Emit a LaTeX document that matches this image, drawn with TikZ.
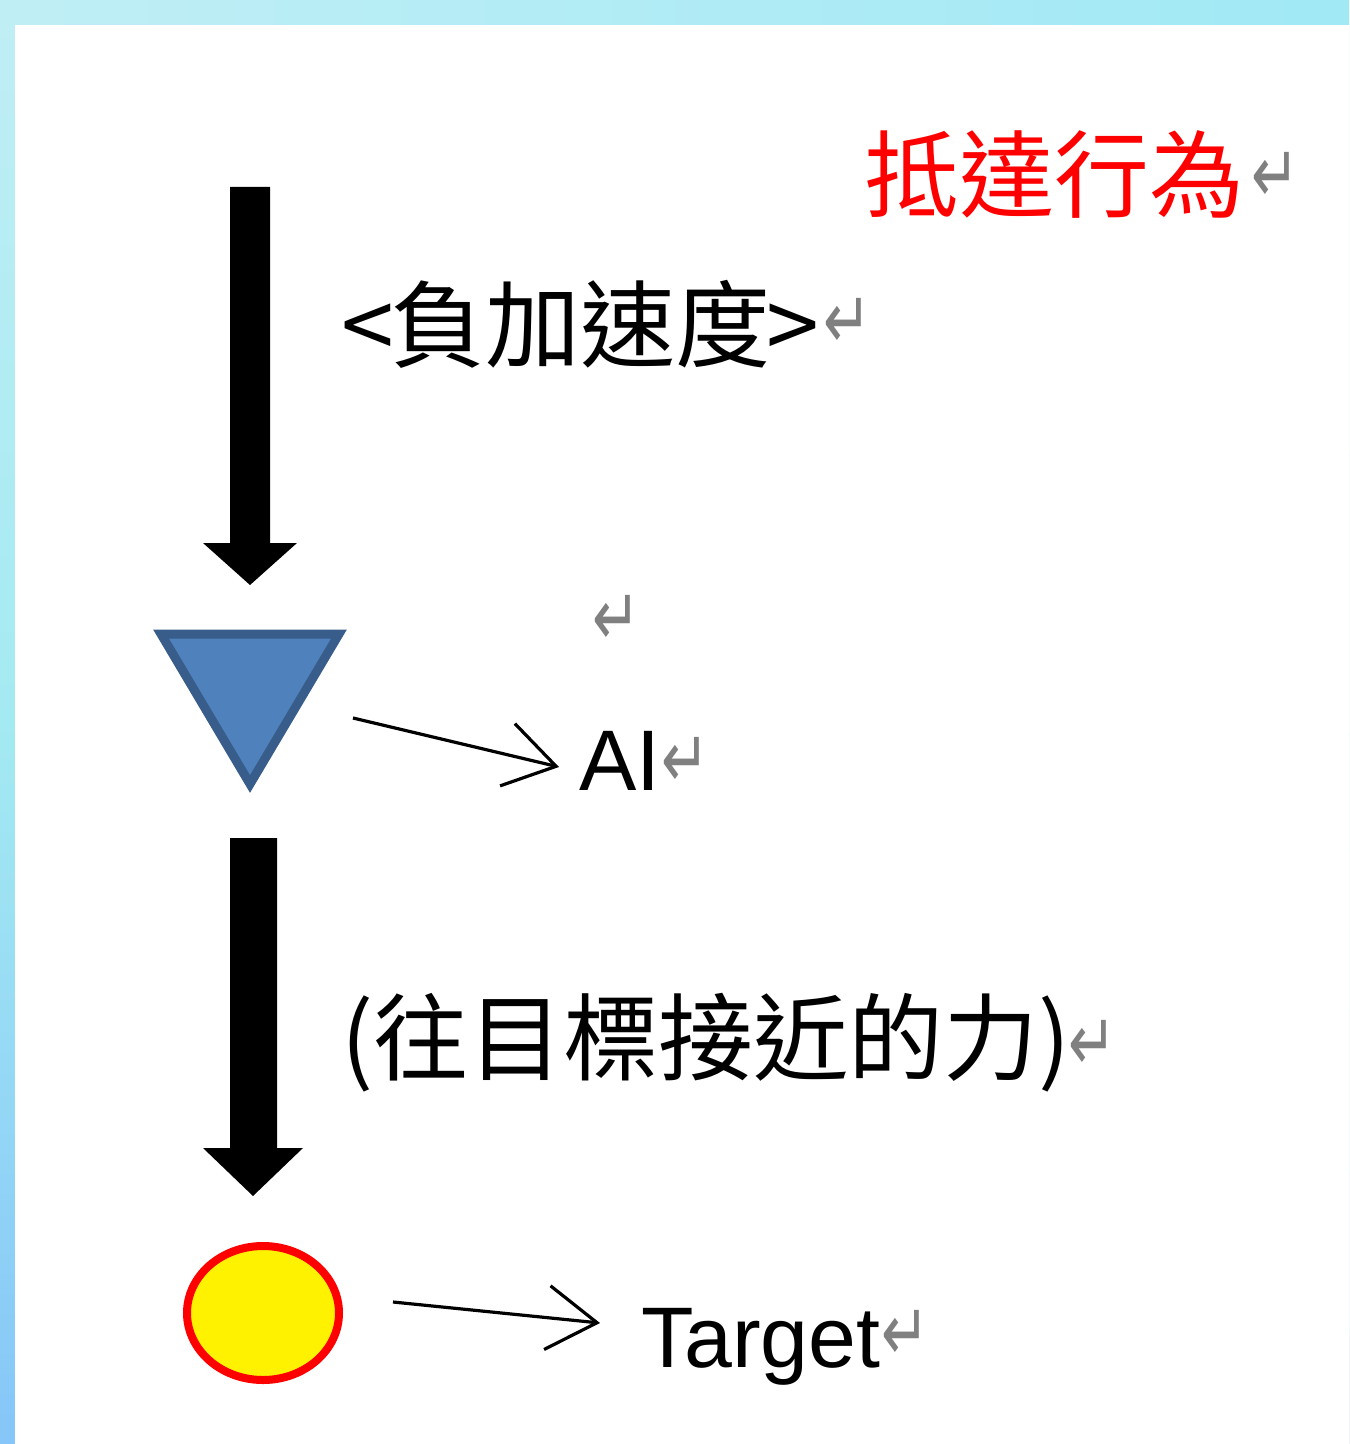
\documentclass[tikz,border=0pt]{standalone}
\usepackage{fontspec}
\usetikzlibrary{arrows.meta}
\newfontfamily\cjkfont{Noto Sans CJK TC}
\newfontfamily\latfont{Liberation Sans}
\newfontfamily\symfont{DejaVu Sans}
\definecolor{bandA}{HTML}{C0EEF5}
\definecolor{bandB}{HTML}{A4EAF2}
\definecolor{bandC}{HTML}{86C6F8}
\definecolor{bandR}{HTML}{A0E9F5}
\definecolor{triFill}{HTML}{4F81BD}
\definecolor{triLine}{HTML}{385D8A}
\definecolor{retGray}{HTML}{808080}
\newcommand{\retglyph}{\scalebox{0.72}[1]{↵}}
\tikzset{
  cjktext/.style={font=\cjkfont\fontsize{47.5pt}{52pt}\selectfont, inner sep=0pt, anchor=base west},
  lattext/.style={font=\latfont\fontsize{43pt}{48pt}\selectfont, inner sep=0pt, anchor=base west},
  retmark/.style={font=\symfont\fontsize{40pt}{44pt}\selectfont, text=retGray, inner sep=0pt, anchor=center},
  blockarrow/.style={fill=black},
  pointer/.style={draw=black, line width=1.6pt, -{Straight Barb[length=25pt,width=32pt]}},
  agent/.style={fill=triFill, draw=triLine, line width=4.5pt, line join=miter},
  goal/.style={fill=yellow, draw=red, line width=4pt}
}
\begin{document}
\begin{tikzpicture}[x=0.5pt,y=-0.5pt]
\useasboundingbox (0,0) rectangle (1349,1444);
% background frame
\shade[top color=bandA, bottom color=bandC, middle color=bandB] (0,0) rectangle (1349,1444);
\shade[left color=bandA, right color=bandR] (0,0) rectangle (1349,25);
\fill[white] (15,25) rectangle (1349,1444);

% texts
\node[cjktext, text=red] (title) at (864,211) {抵達行為};
\node[retmark] (r1) at (1276,177) {\retglyph};
\node[cjktext] (decel) at (341,360) {<\kern-2pt 負加速度\kern-2pt >};
\node[retmark] (r2) at (848,323) {\retglyph};
\node[retmark] (r3) at (617,620) {\retglyph};
\node[lattext] (ai) at (579,790) {AI};
\node[retmark] (r4) at (686,762) {\retglyph};
\node[cjktext] (force) at (341,1073) {(往目標接近的力)};
\node[retmark] (r5) at (1093,1045) {\retglyph};
\node[lattext] (target) at (641,1367) {Target};
\node[retmark] (r6) at (906,1335) {\retglyph};

% big block arrows
\path[blockarrow] (230,187) -- (270,187) -- (270,543) -- (297,543) -- (250,585) -- (203,543) -- (230,543) -- cycle;
\path[blockarrow] (230,838) -- (277,838) -- (277,1148) -- (303,1148) -- (253,1196) -- (203,1148) -- (230,1148) -- cycle;

% agent triangle
\path[agent] (161,634) -- (339,634) -- (250,784) -- cycle;

% target circle
\path[goal] (263,1313) ellipse [x radius=76, y radius=67];

% pointers
\coordinate (p1s) at (353,718);
\coordinate (p1e) at (559,767);
\draw[pointer] (p1s) -- (p1e);
\coordinate (p2s) at (393,1302);
\coordinate (p2e) at (600,1323);
\draw[pointer] (p2s) -- (p2e);
\end{tikzpicture}
\end{document}
